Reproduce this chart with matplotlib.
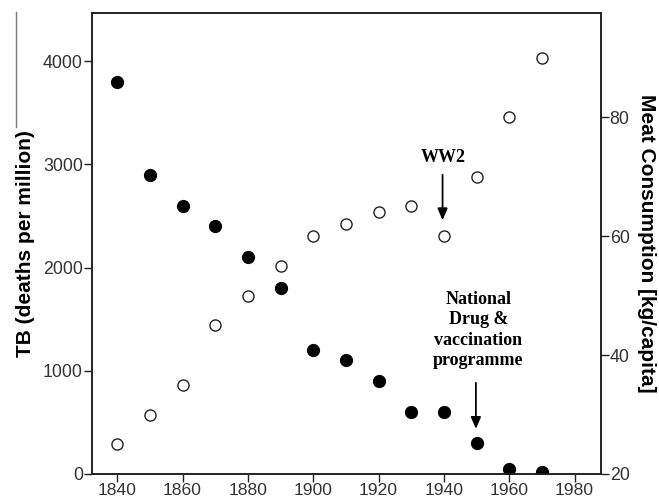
import numpy as np
import matplotlib
matplotlib.use("Agg")
import matplotlib.pyplot as plt
from matplotlib.lines import Line2D

# data
years = [1840, 1850, 1860, 1870, 1880, 1890, 1900, 1910, 1920, 1930, 1940, 1950, 1960, 1970]
tb_deaths = [3800, 2900, 2600, 2400, 2100, 1800, 1200, 1100, 900, 600, 600, 300, 50, 20]
meat_kg = [25, 30, 35, 45, 50, 55, 60, 62, 64, 65, 60, 70, 80, 90]

x_ticks = [1840, 1860, 1880, 1900, 1920, 1940, 1960, 1980]
tb_ticks = [0, 1000, 2000, 3000, 4000]
meat_ticks = [20, 40, 60, 80]

plt.rcParams['font.family'] = ['Liberation Sans', 'DejaVu Sans']
spine_col = '#222222'
tick_col = '#333333'

fig = plt.figure(figsize=(6.59, 5.0), dpi=100)
ax = fig.add_axes([92/659, 26/500, (600.7-92)/659, (474-13)/500])
ax2 = ax.twinx()

ax.plot(years, tb_deaths, 'o', color='black', ms=8.5, zorder=3)
ax2.plot(years, meat_kg, 'o', mfc='white', mec='#222222', ms=8, mew=1.0, zorder=3)

ax.set_xlim(1832.3, 1988)
ax.set_ylim(0, 4465)
ax2.set_ylim(20, 97.5)
ax.set_xticks(x_ticks)
ax.set_yticks(tb_ticks)
ax2.set_yticks(meat_ticks)

for a in (ax, ax2):
    for s in a.spines.values():
        s.set_color(spine_col)
        s.set_linewidth(1.2)
ax.tick_params(axis='y', length=6, width=1, pad=0.5, labelsize=12.8, colors=spine_col, labelcolor=tick_col)
ax.tick_params(axis='x', length=5.5, width=1, pad=1, labelsize=12.6, colors=spine_col, labelcolor=tick_col)
ax2.tick_params(axis='y', length=6, width=1, pad=0.5, labelsize=12.8, colors=spine_col, labelcolor=tick_col)

ax.set_ylabel('TB (deaths per million)', fontsize=15, fontweight='bold', labelpad=6)
ax2.set_ylabel('Meat Consumption [kg/capita]', fontsize=15, fontweight='bold',
               rotation=-90, labelpad=19)

# annotations
serif = ['Liberation Serif', 'DejaVu Serif']
ax.text(1939.7, 3070, 'WW2', ha='center', va='center', fontsize=13,
        fontweight='bold', family=serif)
ax.annotate('', xy=(1939.6, 2431), xytext=(1939.6, 2925),
            arrowprops=dict(arrowstyle='-|>,head_length=0.7,head_width=0.3',
                            color='black', lw=1.3))
ax.text(1950.6, 1395, 'National\nDrug &\nvaccination\nprogramme', ha='center',
        va='center', fontsize=13, fontweight='bold', family=serif, linespacing=1.27)
ax.annotate('', xy=(1949.8, 410), xytext=(1949.8, 910),
            arrowprops=dict(arrowstyle='-|>,head_length=0.7,head_width=0.3',
                            color='black', lw=1.3))

# stray frame line at the far left of the original image
fig.add_artist(Line2D([16/659, 16/659], [1-12/500, 1-127/500], color='#777777', lw=1))

fig.savefig('out.png', dpi=100, facecolor='white')
